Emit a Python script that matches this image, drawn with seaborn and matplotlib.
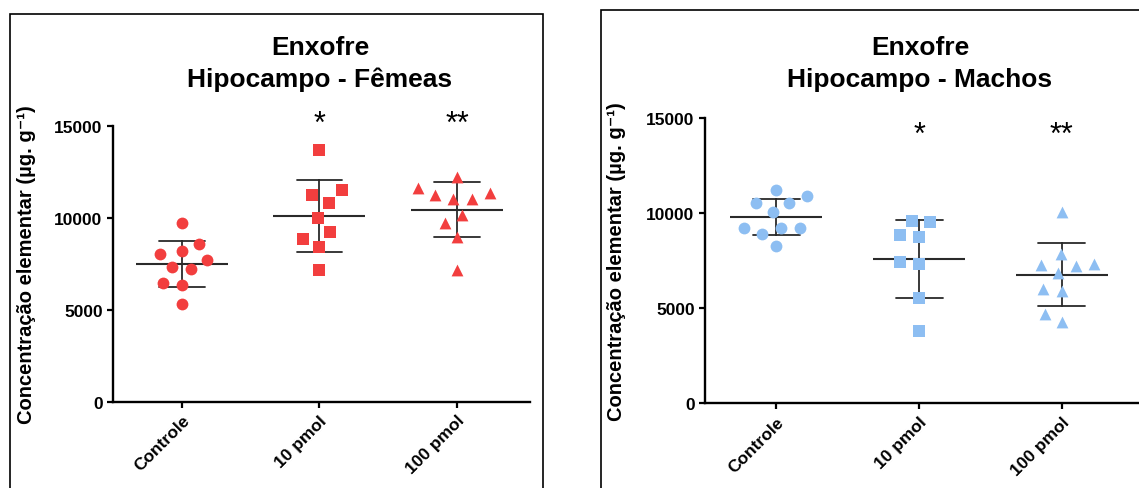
import numpy as np
import pandas as pd
import matplotlib.pyplot as plt
from matplotlib.patches import Rectangle
import seaborn as sns

# dados (ug/g)
grupos = ['Controle', '10 pmol', '100 pmol']
marcadores = ['o', 's', '^']
asteriscos = ['', '*', '**']

femeas_controle = [9745, 8587, 8185, 8060, 7696, 7207, 7337, 6484, 6337, 5343]
femeas_10 = [13675, 11538, 11230, 10815, 10017, 9240, 8876, 8424, 7190]
femeas_100 = [12229, 11647, 11359, 11267, 11011, 11049, 10142, 9729, 8968, 7153]

machos_controle = [11226, 10894, 10526, 10526, 10052, 9210, 9210, 9210, 8910, 8294]
machos_10 = [9610, 9526, 8858, 8737, 7331, 7452, 5526, 3821]
machos_100 = [10084, 7858, 7279, 7242, 7331, 6858, 6016, 5926, 4700, 4295]

sns.set_style('ticks')
plt.rcParams['font.family'] = ['Liberation Sans', 'DejaVu Sans']
plt.rcParams['font.weight'] = 'bold'
plt.rcParams['axes.labelweight'] = 'bold'
for k in ['text.color', 'axes.labelcolor', 'xtick.color', 'ytick.color']:
    plt.rcParams[k] = 'black'


def monta_df(listas):
    linhas = []
    for g, vals in zip(grupos, listas):
        for v in vals:
            linhas.append({'grupo': g, 'valor': v})
    return pd.DataFrame(linhas)


def painel(ax, df, cor, y_ast, xmax):
    ax.set_xlim(-0.5, xmax)
    ax.set_ylim(0, 15000)
    # swarm calculado com marcador maior (espaco como no GraphPad), depois congelado e reduzido
    for g, m in zip(grupos, marcadores):
        sns.swarmplot(data=df[df.grupo == g], x='grupo', y='valor', order=grupos,
                      marker=m, color=cor, size=13, linewidth=0, ax=ax)
    ax.set_xlim(-0.5, xmax)
    ax.set_ylim(0, 15000)
    fig.canvas.draw()
    for c in ax.collections:
        if 'draw' in c.__dict__:
            del c.draw
        c.set_sizes([8.5 ** 2])
    sns.pointplot(data=df, x='grupo', y='valor', order=grupos, errorbar='sd',
                  capsize=0.33, color='#2a2a2a', marker='_', markersize=66,
                  markeredgewidth=1.5, linestyle='none',
                  err_kws={'linewidth': 1.3}, ax=ax)
    for i, s in enumerate(asteriscos):
        ax.text(i, y_ast, s, ha='center', va='center', fontsize=22,
                fontweight='normal', clip_on=False)
    ax.set_xlim(-0.5, xmax)
    ax.set_ylim(0, 15000)
    ax.set_yticks([0, 5000, 10000, 15000])
    ax.set_xlabel('')
    ax.set_ylabel('Concentração elementar (µg. g⁻¹)', fontsize=14.5)
    sns.despine(ax=ax)
    for sp in ['left', 'bottom']:
        ax.spines[sp].set_linewidth(1.7)
        ax.spines[sp].set_color('black')
    ax.tick_params(axis='both', length=4, width=1.6, labelsize=12.5)
    plt.setp(ax.get_xticklabels(), rotation=45, ha='right', rotation_mode='anchor',
             fontweight='bold')
    plt.setp(ax.get_yticklabels(), fontweight='bold')


fig = plt.figure(figsize=(11.39, 4.89), dpi=100)
ax1 = fig.add_axes([0.0992, 0.1759, 0.3661, 0.5644])
ax2 = fig.add_axes([0.6190, 0.1732, 0.3810, 0.5829])

painel(ax1, monta_df([femeas_controle, femeas_10, femeas_100]), '#F23E3E', 15100, 2.53)
painel(ax2, monta_df([machos_controle, machos_10, machos_100]), '#8DBEF2', 14100, 2.54)
ax1.yaxis.set_label_coords(-0.185, 0.5)
ax2.yaxis.set_label_coords(-0.182, 0.5)

# titulos
for x, sub in [(320, 'Hipocampo - Fêmeas'), (920, 'Hipocampo - Machos')]:
    fig.text(x / 1139, 1 - 48 / 489, 'Enxofre', ha='center', va='center', fontsize=19)
    fig.text(x / 1139, 1 - 80 / 489, sub, ha='center', va='center', fontsize=19)

# molduras dos paineis
fig.add_artist(Rectangle((0.0084, -0.05), 0.4683, 1.02, transform=fig.transFigure,
                         fill=False, edgecolor='black', linewidth=1.2))
fig.add_artist(Rectangle((0.528, -0.05), 0.6, 1.028, transform=fig.transFigure,
                         fill=False, edgecolor='black', linewidth=1.2))

fig.savefig('out.png', dpi=100)
